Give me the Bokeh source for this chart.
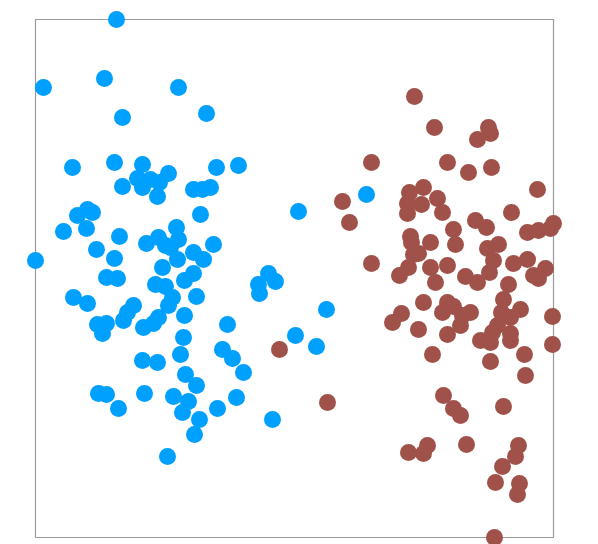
from bokeh.plotting import figure
from bokeh.models import Range1d
from bokeh.embed import file_html
from bokeh.resources import INLINE

# Group A (blue)
a_x = [81, 8, 69, 143, 87, 171, 37, 79, 107, 133, 181, 203, 87, 102, 115, 124, 107, 122,
       158, 167, 175, 165, 42, 52, 57, 28, 51, 84, 61, 79, 0, 111, 123, 130, 135, 141, 143,
       142, 127, 158, 168, 178, 71, 82, 158, 149, 120, 130, 137, 133, 161, 38, 52, 98, 92,
       88, 62, 71, 67, 108, 118, 123, 149, 148, 192, 145, 187, 197, 107, 122, 150, 208, 161,
       63, 71, 109, 138, 153, 147, 83, 164, 182, 159, 132, 201, 237, 263, 331, 233, 240,
       223, 224, 291, 260, 281]
a_y = [518, 450, 459, 450, 420, 424, 370, 375, 373, 364, 370, 372, 351, 359, 358, 355, 350,
       341, 348, 348, 350, 323, 322, 328, 325, 306, 309, 301, 288, 279, 277, 294, 300, 292,
       290, 310, 298, 278, 270, 285, 278, 293, 260, 259, 264, 257, 253, 251, 240, 232, 241,
       240, 234, 232, 225, 217, 213, 214, 204, 210, 214, 220, 222, 200, 213, 183, 188, 179,
       177, 175, 163, 165, 152, 144, 143, 144, 141, 136, 125, 129, 118, 129, 103, 81, 140,
       118, 326, 343, 264, 256, 253, 244, 228, 202, 191]

# Group B (brown)
b_x = [379, 399, 453, 455, 442, 412, 433, 456, 336, 502, 374, 388, 372, 386, 402, 407, 372,
       476, 440, 451, 418, 420, 492, 503, 515, 518, 375, 376, 395, 452, 463, 458, 454, 378,
       383, 373, 364, 395, 400, 412, 430, 442, 478, 492, 510, 498, 503, 473, 388, 366, 357,
       412, 407, 418, 427, 425, 435, 468, 466, 475, 485, 462, 457, 445, 455, 475, 475, 383,
       412, 517, 517, 397, 455, 489, 490, 408, 418, 425, 468, 373, 392, 388, 431, 483, 480,
       467, 460, 484, 482, 459, 307, 314, 336, 244, 292]
b_y = [441, 410, 410, 404, 398, 375, 365, 370, 375, 348, 345, 350, 334, 333, 339, 325, 324,
       325, 317, 310, 308, 293, 305, 307, 309, 314, 301, 295, 295, 289, 293, 277, 265, 283,
       284, 270, 262, 270, 255, 272, 261, 255, 274, 278, 269, 262, 259, 253, 235, 224, 215,
       235, 225, 231, 222, 212, 225, 238, 225, 220, 228, 212, 205, 197, 195, 204, 197, 208,
       203, 221, 193, 183, 176, 183, 162, 142, 129, 122, 131, 85, 92, 84, 93, 92, 81, 71,
       55, 54, 43, 0, 336, 315, 274, 188, 135]

p = figure(width=590, height=544, output_backend="svg", toolbar_location=None,
           x_range=Range1d(-35, 555), y_range=Range1d(-7, 537),
           min_border=0, outline_line_color=None)
p.axis.visible = False
p.grid.visible = False
p.background_fill_color = "white"
p.border_fill_color = "white"

p.quad(left=[0], right=[518], bottom=[0], top=[518], fill_color=None,
       line_color="#9a9a9a", line_width=1.2)

p.scatter(a_x, a_y, size=17, fill_color="#00a0ff", line_color=None)
p.scatter(b_x, b_y, size=17, fill_color="#a0524a", line_color=None)

open("out.html", "w").write(file_html(p, INLINE))
